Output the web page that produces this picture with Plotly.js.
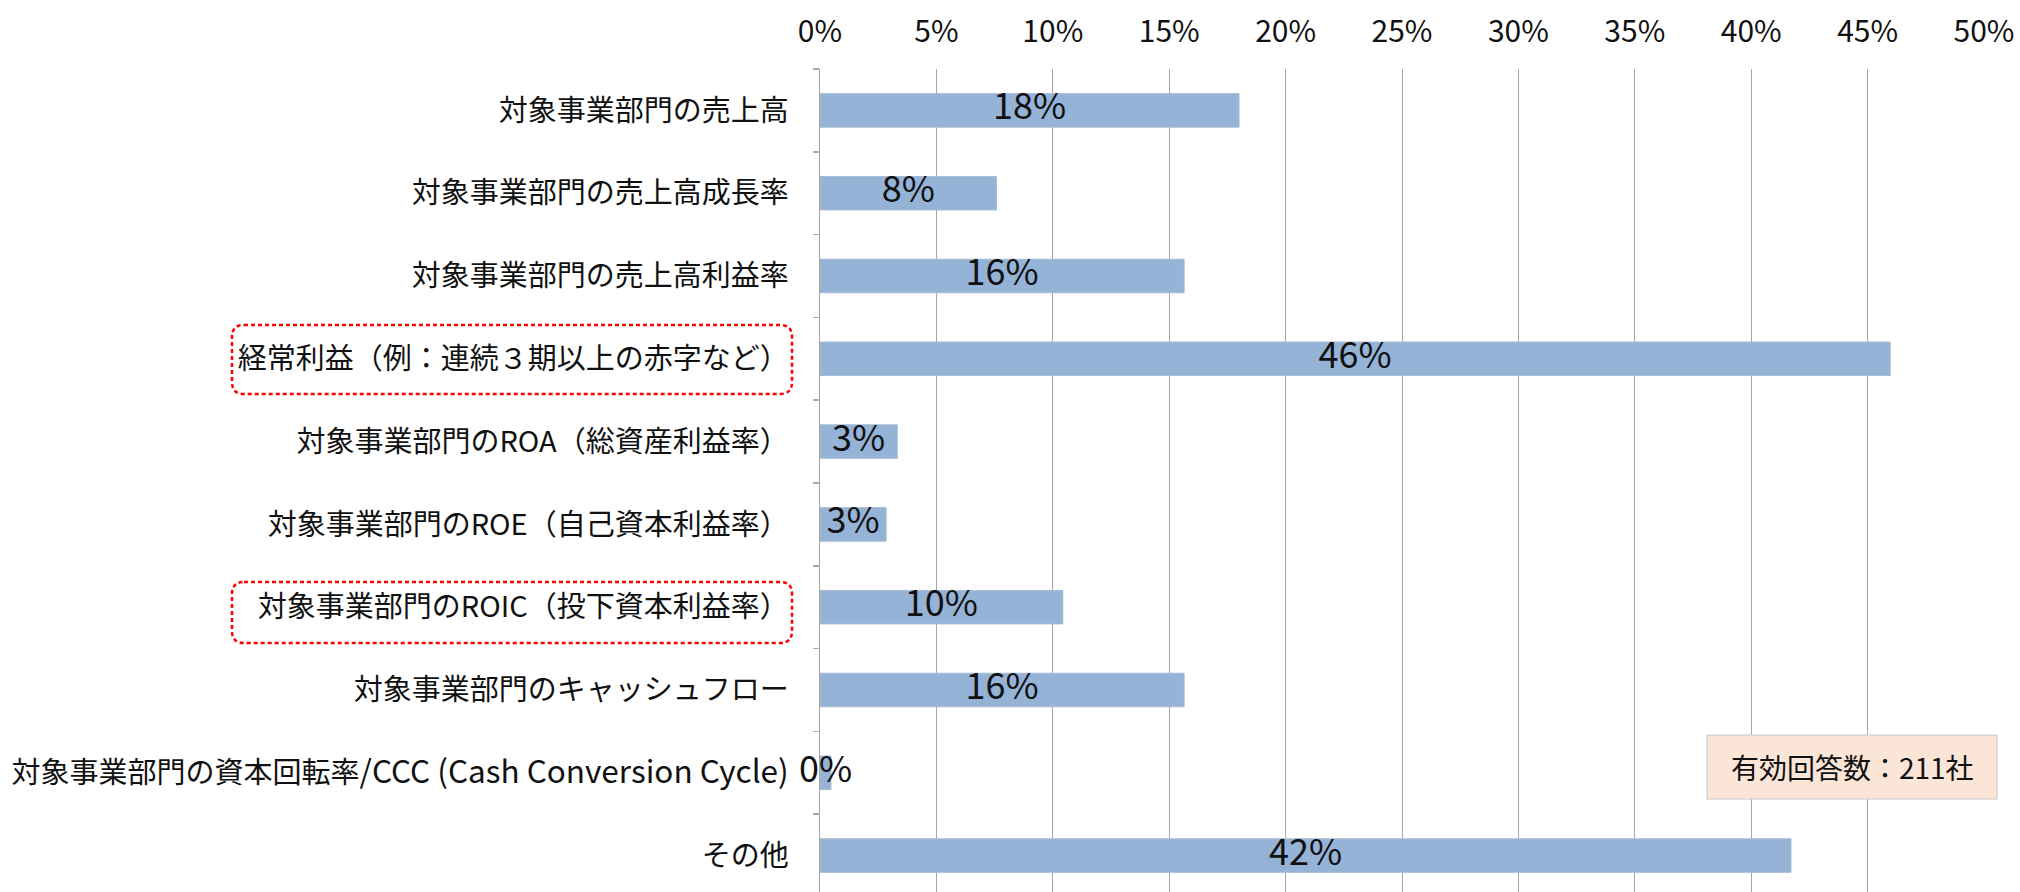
<!DOCTYPE html>
<html>
<head>
<meta charset="utf-8">
<script src="https://cdn.plot.ly/plotly-3.0.1.min.js"></script>
<style>html,body{margin:0;padding:0;background:#fff;}#chart{width:2020px;height:892px;}</style>
</head>
<body>
<div id="chart"></div>
<script>
const categories = [
  "対象事業部門の売上高",
  "対象事業部門の売上高成長率",
  "対象事業部門の売上高利益率",
  "経常利益（例：連続３期以上の赤字など）",
  "対象事業部門のROA（総資産利益率）",
  "対象事業部門のROE（自己資本利益率）",
  "対象事業部門のROIC（投下資本利益率）",
  "対象事業部門のキャッシュフロー",
  "対象事業部門の資本回転率/CCC (Cash Conversion Cycle)",
  "その他"
];
const shares = [0.180, 0.0758, 0.1564, 0.4597, 0.0332, 0.0284, 0.1043, 0.1564, 0.0047, 0.4171];
const noteText = "有効回答数：211社";

const W = 2020, H = 892;
const ML = 820, MR = 36, MT = 69, MB = 0;
const PW = W - ML - MR, PH = H - MT - MB;
const FONT = "Noto Sans CJK JP, Noto Sans, sans-serif";

function px2x(X){ return (X - ML) / PW; }
function px2y(Y){ return (H - MB - Y) / PH; }
function roundRect(x0, y0, x1, y1, r){
  const P = (X, Y) => px2x(X).toFixed(5) + "," + px2y(Y).toFixed(5);
  return "M" + P(x0 + r, y0) + " L" + P(x1 - r, y0) + " Q" + P(x1, y0) + " " + P(x1, y0 + r) +
         " L" + P(x1, y1 - r) + " Q" + P(x1, y1) + " " + P(x1 - r, y1) +
         " L" + P(x0 + r, y1) + " Q" + P(x0, y1) + " " + P(x0, y1 - r) +
         " L" + P(x0, y0 + r) + " Q" + P(x0, y0) + " " + P(x0 + r, y0) + " Z";
}
// wider Latin runs (the original font's Latin glyphs are wider than Noto's)
function tickLabel(s){
  return s.replace(/[ -~]{5,}/g, m => '<span style="font-size:31.5px">' + m + '</span>');
}

const bars = {
  type: "bar", orientation: "h",
  x: shares, y: categories,
  marker: {color: "#95b3d7", line: {color: "#a7bbd4", width: 1}},
  hoverinfo: "skip", showlegend: false
};
const labels = {
  type: "scatter", mode: "text",
  x: shares.map(v => v / 2), y: categories,
  text: shares.map(v => Math.round(v * 100) + "%"),
  textposition: "middle center",
  textfont: {family: FONT, size: 36, color: "#111"},
  hoverinfo: "skip", showlegend: false, cliponaxis: false
};

const boxes = [
  {x0: 232, y0: 325, x1: 792, y1: 394},
  {x0: 232, y0: 582, x1: 792, y1: 643}
];
const shapes = boxes.map(b => ({
  type: "path", xref: "paper", yref: "paper",
  path: roundRect(b.x0, b.y0, b.x1, b.y1, 12),
  line: {color: "#ff0000", width: 2.5, dash: "4px,3px"}
}));
shapes.push({
  type: "rect", xref: "paper", yref: "paper", layer: "above",
  x0: px2x(1707), x1: px2x(1997), y0: px2y(799), y1: px2y(735),
  fillcolor: "#fbe5d6", line: {color: "#c8c8c8", width: 1}
});

const layout = {
  width: W, height: H,
  margin: {l: ML, r: MR, t: MT, b: MB, pad: 0},
  paper_bgcolor: "#fff", plot_bgcolor: "#fff",
  bargap: 0.595,
  font: {family: FONT, color: "#111"},
  xaxis: {
    side: "top", range: [0, 0.5], dtick: 0.05, tick0: 0, tickformat: ".0%",
    showgrid: true, gridcolor: "#a6a6a6", gridwidth: 1,
    zeroline: false, showline: false, ticks: "",
    tickfont: {family: FONT, size: 30, color: "#111"},
    ticklabelstandoff: 20, fixedrange: true
  },
  yaxis: {
    type: "category", autorange: false, range: [9.44, -0.5],
    tickmode: "array", tickvals: categories, ticktext: categories.map(tickLabel),
    showline: true, linecolor: "#a6a6a6", linewidth: 1.5,
    ticks: "outside", ticklen: 6, tickcolor: "#a6a6a6", tickwidth: 1.5,
    tickson: "boundaries", showgrid: false, zeroline: false,
    tickfont: {family: FONT, size: 29, color: "#111"},
    ticklabelstandoff: 24, fixedrange: true
  },
  shapes: shapes,
  annotations: [{
    xref: "paper", yref: "paper",
    x: px2x(1852), y: px2y(767), xanchor: "center", yanchor: "middle",
    text: noteText, showarrow: false,
    font: {family: FONT, size: 28, color: "#111"}
  }]
};

Plotly.newPlot("chart", [bars, labels], layout, {displayModeBar: false, staticPlot: true});
</script>
</body>
</html>
